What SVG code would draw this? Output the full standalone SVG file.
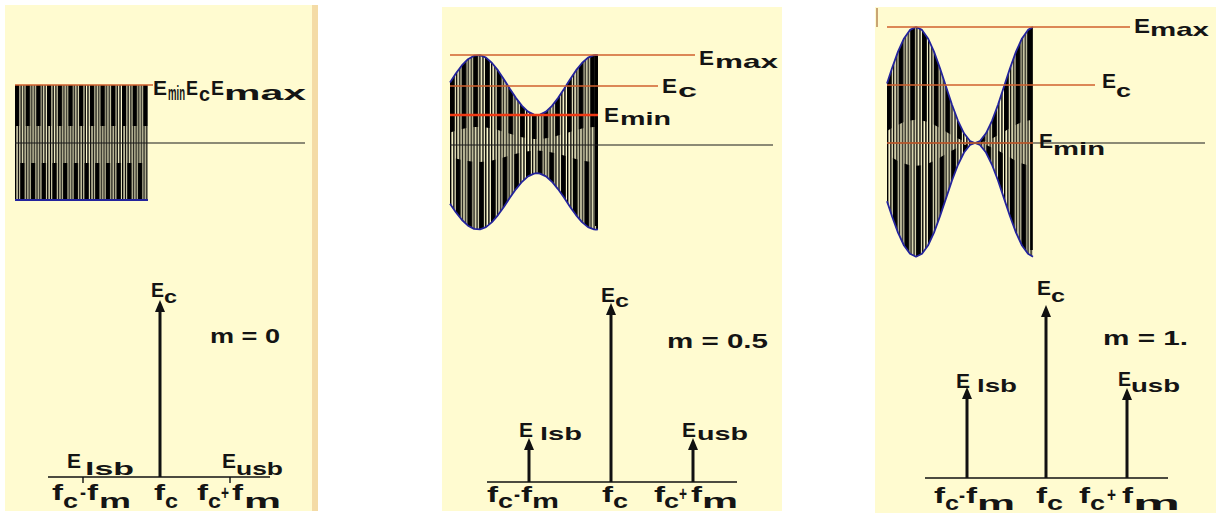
<svg xmlns="http://www.w3.org/2000/svg" width="1216" height="527" viewBox="0 0 1216 527">
<defs>
<style>
.bg{fill:#FFFBD0}
.t{font-family:"Liberation Sans",Arial,sans-serif;font-weight:bold;fill:#141414}
.e{font-size:20px}
.s{font-size:19px}
.s2{font-size:21px}
.b{font-size:21px}
.f{font-size:22px}
.m{font-size:20px}
.red{stroke:#D0602E;stroke-width:1.4;fill:none}
.axis{stroke:#1a1a1a;stroke-width:1.2;fill:none}
.env{stroke:#23239C;stroke-width:1.8;fill:none;stroke-linejoin:round}
.spec{stroke:#111;stroke-width:1.6}
.arr{stroke:#111;stroke-width:3;marker-end:url(#ah)}
.tick{stroke:#111;stroke-width:1.4}
</style>
<marker id="ah" markerUnits="userSpaceOnUse" markerWidth="12" markerHeight="10" viewBox="0 0 12 10" refX="3" refY="5" orient="auto"><path d="M0,0 L12,5 L0,10 Z" fill="#111"/></marker>
<pattern id="pA1" patternUnits="userSpaceOnUse" x="15" y="0" width="10.7" height="527"><rect width="4.1" height="527" fill="#000"/></pattern>
<pattern id="pB1" patternUnits="userSpaceOnUse" x="20.35" y="0" width="10.7" height="527"><rect width="4.1" height="527" fill="#000"/></pattern>
<pattern id="pT1" patternUnits="userSpaceOnUse" x="15" y="0" width="10.7" height="527"><g fill="#000"><rect x="0" width="1.4" height="527"/><rect x="2.7" width="1.4" height="527"/><rect x="5.35" width="1.4" height="527"/><rect x="8.05" width="1.4" height="527"/></g></pattern>
<pattern id="pA2" patternUnits="userSpaceOnUse" x="450" y="0" width="11.7" height="527"><rect width="4.5" height="527" fill="#000"/></pattern>
<pattern id="pB2" patternUnits="userSpaceOnUse" x="455.85" y="0" width="11.7" height="527"><rect width="4.5" height="527" fill="#000"/></pattern>
<pattern id="pT2" patternUnits="userSpaceOnUse" x="450" y="0" width="11.7" height="527"><g fill="#000"><rect x="0" width="1.4" height="527"/><rect x="3.1" width="1.4" height="527"/><rect x="5.85" width="1.4" height="527"/><rect x="8.95" width="1.4" height="527"/></g></pattern>
<pattern id="pA3" patternUnits="userSpaceOnUse" x="887" y="0" width="11.7" height="527"><rect width="4.5" height="527" fill="#000"/></pattern>
<pattern id="pB3" patternUnits="userSpaceOnUse" x="892.85" y="0" width="11.7" height="527"><rect width="4.5" height="527" fill="#000"/></pattern>
<pattern id="pT3" patternUnits="userSpaceOnUse" x="887" y="0" width="11.7" height="527"><g fill="#000"><rect x="0" width="1.4" height="527"/><rect x="3.1" width="1.4" height="527"/><rect x="5.85" width="1.4" height="527"/><rect x="8.95" width="1.4" height="527"/></g></pattern>
</defs>
<rect width="1216" height="527" fill="#fff"/>

<!-- Panel 1: m = 0 -->
<g id="panel1">
<rect class="bg" x="5" y="5" width="308" height="506"/>
<rect x="312" y="5" width="6" height="506" fill="#F4DBA6"/>
<g id="wave1">
<rect x="15" y="85" width="133" height="115" fill="url(#pT1)"/>
<rect x="15" y="85" width="133" height="41" fill="url(#pA1)"/>
<rect x="15" y="163" width="133" height="37" fill="url(#pB1)"/>
</g>
<g id="levels1">
<line class="axis" x1="15" y1="143" x2="305" y2="143"/>
<line class="red" x1="15" y1="85" x2="153" y2="85"/>
<line x1="15" y1="200" x2="148" y2="200" stroke="#23239C" stroke-width="2.2"/>
</g>
<g id="labels1top">
<text class="t e" x="153" y="95" textLength="14" lengthAdjust="spacingAndGlyphs">E</text>
<text class="t s2" x="168" y="100" textLength="17" lengthAdjust="spacingAndGlyphs">min</text>
<text class="t e" x="186" y="95" textLength="12" lengthAdjust="spacingAndGlyphs">E</text>
<text class="t s2" x="199" y="101" textLength="11" lengthAdjust="spacingAndGlyphs">c</text>
<text class="t e" x="211" y="95" textLength="13" lengthAdjust="spacingAndGlyphs">E</text>
<text class="t s2" x="224" y="100" textLength="82" lengthAdjust="spacingAndGlyphs">max</text>
</g>
<g id="spectrum1">
<line class="spec" x1="48" y1="477" x2="270" y2="477"/>
<line class="tick" x1="83" y1="477" x2="83" y2="483"/>
<line class="tick" x1="230" y1="477" x2="230" y2="483"/>
<line class="arr" x1="160" y1="477" x2="160" y2="309"/>
</g>
<g id="labels1bottom">
<text class="t e" x="151" y="297" textLength="13" lengthAdjust="spacingAndGlyphs">E</text>
<text class="t s" x="164" y="303" textLength="13" lengthAdjust="spacingAndGlyphs">c</text>
<text class="t m" x="210" y="343" textLength="70" lengthAdjust="spacingAndGlyphs">m = 0</text>
<text class="t e" x="67" y="468" textLength="14" lengthAdjust="spacingAndGlyphs">E</text>
<text class="t s" x="85" y="475" textLength="49" lengthAdjust="spacingAndGlyphs">lsb</text>
<text class="t e" x="222" y="468" textLength="14" lengthAdjust="spacingAndGlyphs">E</text>
<text class="t s" x="236" y="475" textLength="47" lengthAdjust="spacingAndGlyphs">usb</text>
<text class="t f" x="52" y="500" textLength="11" lengthAdjust="spacingAndGlyphs">f</text>
<text class="t b" x="63" y="508" textLength="15" lengthAdjust="spacingAndGlyphs">c</text>
<text class="t b" x="80" y="499" textLength="6" lengthAdjust="spacingAndGlyphs">-</text>
<text class="t f" x="87" y="500" textLength="11" lengthAdjust="spacingAndGlyphs">f</text>
<text class="t b" x="99" y="508" textLength="32" lengthAdjust="spacingAndGlyphs">m</text>
<text class="t f" x="154" y="500" textLength="11" lengthAdjust="spacingAndGlyphs">f</text>
<text class="t b" x="165" y="508" textLength="13" lengthAdjust="spacingAndGlyphs">c</text>
<text class="t f" x="197" y="500" textLength="11" lengthAdjust="spacingAndGlyphs">f</text>
<text class="t b" x="208" y="508" textLength="13" lengthAdjust="spacingAndGlyphs">c</text>
<text class="t b" x="221" y="500" textLength="8" lengthAdjust="spacingAndGlyphs">+</text>
<text class="t f" x="232" y="500" textLength="11" lengthAdjust="spacingAndGlyphs">f</text>
<text class="t b" x="244" y="508" textLength="37" lengthAdjust="spacingAndGlyphs">m</text>
</g>
</g>

<!-- Panel 2: m = 0.5 -->
<g id="panel2">
<rect class="bg" x="442" y="7" width="340" height="504"/>
<g id="wave2">
<path fill="url(#pT2)" d="M450,82.6 L456,73.3 462,65.2 468,59.2 474,55.7 480,55.2 486,57.7 492,63.0 498,70.4 504,79.4 510,89.0 516,98.1 522,105.9 528,111.6 534,114.6 537,115.0 540,114.6 546,111.6 552,105.9 558,98.1 564,89.0 570,79.4 576,70.4 582,63.0 588,57.7 594,55.2 596,55.0 598,55.2 L598,229.4 596,229.6 594,229.4 588,227.1 582,222.1 576,215.1 570,206.7 564,197.6 558,189.1 552,181.8 546,176.4 540,173.6 537,173.2 534,173.6 528,176.4 522,181.8 516,189.1 510,197.6 504,206.7 498,215.1 492,222.1 486,227.1 480,229.4 474,228.9 468,225.7 462,220.0 456,212.4 450,203.7 Z"/>
<path fill="url(#pA2)" d="M450,82.6 L456,73.3 462,65.2 468,59.2 474,55.7 480,55.2 486,57.7 492,63.0 498,70.4 504,79.4 510,89.0 516,98.1 522,105.9 528,111.6 534,114.6 537,115.0 540,114.6 546,111.6 552,105.9 558,98.1 564,89.0 570,79.4 576,70.4 582,63.0 588,57.7 594,55.2 596,55.0 598,55.2 L598,127.0 596,127.0 594,127.0 588,127.5 582,128.6 576,130.1 570,131.9 564,133.8 558,135.6 552,137.2 546,138.3 540,138.9 537,139.0 534,138.9 528,138.3 522,137.2 516,135.6 510,133.8 504,131.9 498,130.1 492,128.6 486,127.5 480,127.0 474,127.1 468,127.8 462,129.0 456,130.7 450,132.5 Z"/>
<path fill="url(#pB2)" d="M450,156.7 L456,158.5 462,160.0 468,161.1 474,161.8 480,161.9 486,161.4 492,160.4 498,159.0 504,157.3 510,155.5 516,153.8 522,152.4 528,151.3 534,150.7 537,150.6 540,150.7 546,151.3 552,152.4 558,153.8 564,155.5 570,157.3 576,159.0 582,160.4 588,161.4 594,161.9 596,161.9 598,161.9 L598,229.4 596,229.6 594,229.4 588,227.1 582,222.1 576,215.1 570,206.7 564,197.6 558,189.1 552,181.8 546,176.4 540,173.6 537,173.2 534,173.6 528,176.4 522,181.8 516,189.1 510,197.6 504,206.7 498,215.1 492,222.1 486,227.1 480,229.4 474,228.9 468,225.7 462,220.0 456,212.4 450,203.7 Z"/>
<line x1="596.5" y1="56" x2="596.5" y2="226" stroke="#000" stroke-width="3"/>
<polyline class="env" points="450,82.6 456,73.3 462,65.2 468,59.2 474,55.7 480,55.2 486,57.7 492,63.0 498,70.4 504,79.4 510,89.0 516,98.1 522,105.9 528,111.6 534,114.6 537,115.0 540,114.6 546,111.6 552,105.9 558,98.1 564,89.0 570,79.4 576,70.4 582,63.0 588,57.7 594,55.2 596,55.0 598,55.2"/>
<polyline class="env" points="450,203.7 456,212.4 462,220.0 468,225.7 474,228.9 480,229.4 486,227.1 492,222.1 498,215.1 504,206.7 510,197.6 516,189.1 522,181.8 528,176.4 534,173.6 537,173.2 540,173.6 546,176.4 552,181.8 558,189.1 564,197.6 570,206.7 576,215.1 582,222.1 588,227.1 594,229.4 596,229.6 598,229.4"/>
</g>
<g id="levels2">
<line class="axis" x1="450" y1="145" x2="773" y2="145"/>
<line class="red" x1="450" y1="55" x2="695" y2="55"/>
<line class="red" x1="450" y1="86" x2="658" y2="86"/>
<line x1="450" y1="115" x2="598" y2="115" stroke="#F03A14" stroke-width="2.4"/>
</g>
<g id="labels2top">
<text class="t e" x="699" y="65" textLength="15" lengthAdjust="spacingAndGlyphs">E</text>
<text class="t s" x="715" y="68" textLength="63" lengthAdjust="spacingAndGlyphs">max</text>
<text class="t e" x="662" y="93" textLength="15" lengthAdjust="spacingAndGlyphs">E</text>
<text class="t s" x="678" y="97" textLength="19" lengthAdjust="spacingAndGlyphs">c</text>
<text class="t e" x="604" y="122" textLength="15" lengthAdjust="spacingAndGlyphs">E</text>
<text class="t s" x="620" y="125" textLength="51" lengthAdjust="spacingAndGlyphs">min</text>
</g>
<g id="spectrum2">
<line class="spec" x1="487" y1="482" x2="737" y2="482"/>
<line class="arr" x1="529" y1="482" x2="529" y2="447"/>
<line class="arr" x1="611" y1="482" x2="611" y2="312"/>
<line class="arr" x1="693" y1="482" x2="693" y2="447"/>
</g>
<g id="labels2bottom">
<text class="t e" x="601" y="302" textLength="14" lengthAdjust="spacingAndGlyphs">E</text>
<text class="t s" x="615" y="307" textLength="14" lengthAdjust="spacingAndGlyphs">c</text>
<text class="t m" x="667" y="348" textLength="101" lengthAdjust="spacingAndGlyphs">m = 0.5</text>
<text class="t e" x="519" y="437" textLength="14" lengthAdjust="spacingAndGlyphs">E</text>
<text class="t s" x="540" y="440" textLength="42" lengthAdjust="spacingAndGlyphs">lsb</text>
<text class="t e" x="682" y="437" textLength="14" lengthAdjust="spacingAndGlyphs">E</text>
<text class="t s" x="697" y="440" textLength="51" lengthAdjust="spacingAndGlyphs">usb</text>
<text class="t f" x="487" y="502" textLength="11" lengthAdjust="spacingAndGlyphs">f</text>
<text class="t b" x="498" y="508" textLength="15" lengthAdjust="spacingAndGlyphs">c</text>
<text class="t b" x="514" y="501" textLength="6" lengthAdjust="spacingAndGlyphs">-</text>
<text class="t f" x="521" y="502" textLength="11" lengthAdjust="spacingAndGlyphs">f</text>
<text class="t b" x="532" y="508" textLength="27" lengthAdjust="spacingAndGlyphs">m</text>
<text class="t f" x="602" y="502" textLength="11" lengthAdjust="spacingAndGlyphs">f</text>
<text class="t b" x="613" y="508" textLength="15" lengthAdjust="spacingAndGlyphs">c</text>
<text class="t f" x="654" y="502" textLength="11" lengthAdjust="spacingAndGlyphs">f</text>
<text class="t b" x="664" y="508" textLength="15" lengthAdjust="spacingAndGlyphs">c</text>
<text class="t b" x="679" y="501" textLength="8" lengthAdjust="spacingAndGlyphs">+</text>
<text class="t f" x="691" y="502" textLength="11" lengthAdjust="spacingAndGlyphs">f</text>
<text class="t b" x="702" y="508" textLength="36" lengthAdjust="spacingAndGlyphs">m</text>
</g>
</g>

<!-- Panel 3: m = 1 -->
<g id="panel3">
<rect class="bg" x="875" y="7" width="341" height="506"/>
<line x1="877" y1="8" x2="877" y2="27" stroke="#C9A474" stroke-width="2"/>
<g id="wave3">
<path fill="url(#pT3)" d="M887,83.5 L892,68.3 898,51.6 904,38.4 910,29.9 916,27.0 922,29.9 928,38.4 934,51.6 940,68.3 946,86.5 952,104.7 958,120.8 964,133.3 970,141.0 975,143.0 980,141.0 986,133.3 992,120.8 998,104.7 1004,86.5 1010,68.3 1016,51.6 1022,38.4 1028,29.9 1033,27.0 L1033,256.7 1028,253.8 1022,245.5 1016,232.6 1010,216.2 1004,198.4 998,180.5 992,164.8 986,152.5 980,145.0 975,143.0 970,145.0 964,152.5 958,164.8 952,180.5 946,198.4 940,216.2 934,232.6 928,245.5 922,253.8 916,256.7 910,253.8 904,245.5 898,232.6 892,216.2 887,201.3 Z"/>
<path fill="url(#pA3)" d="M887,83.5 L892,68.3 898,51.6 904,38.4 910,29.9 916,27.0 922,29.9 928,38.4 934,51.6 940,68.3 946,86.5 952,104.7 958,120.8 964,133.3 970,141.0 975,143.0 980,141.0 986,133.3 992,120.8 998,104.7 1004,86.5 1010,68.3 1016,51.6 1022,38.4 1028,29.9 1033,27.0 L1033,119.8 1028,120.4 1022,122.1 1016,124.7 1010,128.1 1004,131.7 998,135.3 992,138.6 986,141.1 980,142.6 975,143.0 970,142.6 964,141.1 958,138.6 952,135.3 946,131.7 940,128.1 934,124.7 928,122.1 922,120.4 916,119.8 910,120.4 904,122.1 898,124.7 892,128.1 887,131.1 Z"/>
<path fill="url(#pB3)" d="M887,154.7 L892,157.6 898,160.9 904,163.5 910,165.2 916,165.7 922,165.2 928,163.5 934,160.9 940,157.6 946,154.1 952,150.5 958,147.4 964,144.9 970,143.4 975,143.0 980,143.4 986,144.9 992,147.4 998,150.5 1004,154.1 1010,157.6 1016,160.9 1022,163.5 1028,165.2 1033,165.7 L1033,256.7 1028,253.8 1022,245.5 1016,232.6 1010,216.2 1004,198.4 998,180.5 992,164.8 986,152.5 980,145.0 975,143.0 970,145.0 964,152.5 958,164.8 952,180.5 946,198.4 940,216.2 934,232.6 928,245.5 922,253.8 916,256.7 910,253.8 904,245.5 898,232.6 892,216.2 887,201.3 Z"/>
<line x1="1031.5" y1="28" x2="1031.5" y2="250" stroke="#000" stroke-width="2.6"/>
<polyline class="env" points="887,83.5 892,68.3 898,51.6 904,38.4 910,29.9 916,27.0 922,29.9 928,38.4 934,51.6 940,68.3 946,86.5 952,104.7 958,120.8 964,133.3 970,141.0 975,143.0 980,141.0 986,133.3 992,120.8 998,104.7 1004,86.5 1010,68.3 1016,51.6 1022,38.4 1028,29.9 1033,27.0"/>
<polyline class="env" points="887,201.3 892,216.2 898,232.6 904,245.5 910,253.8 916,256.7 922,253.8 928,245.5 934,232.6 940,216.2 946,198.4 952,180.5 958,164.8 964,152.5 970,145.0 975,143.0 980,145.0 986,152.5 992,164.8 998,180.5 1004,198.4 1010,216.2 1016,232.6 1022,245.5 1028,253.8 1033,256.7"/>
</g>
<g id="levels3">
<line class="axis" x1="887" y1="143" x2="1205" y2="143"/>
<line class="red" x1="887" y1="143" x2="1033" y2="143"/>
<line class="red" x1="887" y1="27" x2="1130" y2="27"/>
<line class="red" x1="887" y1="85" x2="1095" y2="85"/>
</g>
<g id="labels3top">
<text class="t e" x="1134" y="33" textLength="16" lengthAdjust="spacingAndGlyphs">E</text>
<text class="t s" x="1150" y="36" textLength="59" lengthAdjust="spacingAndGlyphs">max</text>
<text class="t e" x="1102" y="88" textLength="14" lengthAdjust="spacingAndGlyphs">E</text>
<text class="t s" x="1116" y="97" textLength="15" lengthAdjust="spacingAndGlyphs">c</text>
<text class="t e" x="1039" y="148" textLength="14" lengthAdjust="spacingAndGlyphs">E</text>
<text class="t s" x="1053" y="155" textLength="52" lengthAdjust="spacingAndGlyphs">min</text>
</g>
<g id="spectrum3">
<line class="spec" x1="925" y1="478" x2="1168" y2="478"/>
<line class="arr" x1="967" y1="478" x2="967" y2="396"/>
<line class="arr" x1="1046" y1="478" x2="1046" y2="314"/>
<line class="arr" x1="1127" y1="478" x2="1127" y2="397"/>
</g>
<g id="labels3bottom">
<text class="t e" x="1037" y="295" textLength="14" lengthAdjust="spacingAndGlyphs">E</text>
<text class="t s" x="1051" y="302" textLength="14" lengthAdjust="spacingAndGlyphs">c</text>
<text class="t m" x="1103" y="345" textLength="85" lengthAdjust="spacingAndGlyphs">m = 1.</text>
<text class="t e" x="956" y="388" textLength="14" lengthAdjust="spacingAndGlyphs">E</text>
<text class="t s" x="977" y="392" textLength="40" lengthAdjust="spacingAndGlyphs">lsb</text>
<text class="t e" x="1118" y="386" textLength="13" lengthAdjust="spacingAndGlyphs">E</text>
<text class="t s" x="1131" y="392" textLength="49" lengthAdjust="spacingAndGlyphs">usb</text>
<text class="t f" x="934" y="503" textLength="11" lengthAdjust="spacingAndGlyphs">f</text>
<text class="t b" x="945" y="510" textLength="14" lengthAdjust="spacingAndGlyphs">c</text>
<text class="t b" x="959" y="502" textLength="6" lengthAdjust="spacingAndGlyphs">-</text>
<text class="t f" x="966" y="503" textLength="11" lengthAdjust="spacingAndGlyphs">f</text>
<text class="t b" x="977" y="510" textLength="38" lengthAdjust="spacingAndGlyphs">m</text>
<text class="t f" x="1036" y="503" textLength="11" lengthAdjust="spacingAndGlyphs">f</text>
<text class="t b" x="1047" y="510" textLength="16" lengthAdjust="spacingAndGlyphs">c</text>
<text class="t f" x="1079" y="503" textLength="11" lengthAdjust="spacingAndGlyphs">f</text>
<text class="t b" x="1090" y="510" textLength="15" lengthAdjust="spacingAndGlyphs">c</text>
<text class="t b" x="1107" y="502" textLength="9" lengthAdjust="spacingAndGlyphs">+</text>
<text class="t f" x="1122" y="503" textLength="11" lengthAdjust="spacingAndGlyphs">f</text>
<text class="t b" x="1133" y="510" textLength="47" lengthAdjust="spacingAndGlyphs">m</text>
</g>
</g>
</svg>
